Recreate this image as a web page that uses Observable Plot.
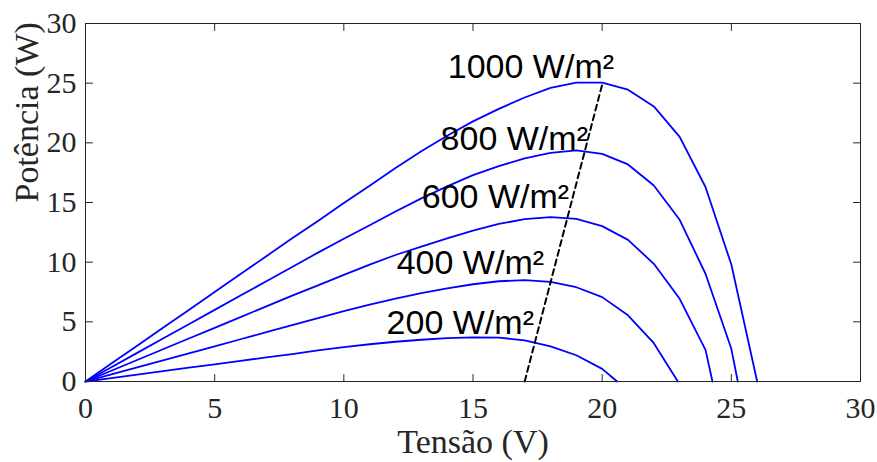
<!DOCTYPE html>
<html><head><meta charset="utf-8">
<script src="https://cdn.jsdelivr.net/npm/d3@7"></script>
<script src="https://cdn.jsdelivr.net/npm/@observablehq/plot@0.6"></script>
<style>body{margin:0;background:#fff}</style>
</head><body><div id="chart"></div>
<script>
// Irradiance curves: voltage (V) and power (W)
const v1000 = [0,1,2,3,4,5,6,7,8,9,10,11,12,13,14,15,16,17,18,19,20,21,22,23,24,25,26];
const p1000 = [0,1.5,3,4.5,6,7.5,9,10.5,12,13.45,14.95,16.4,17.9,19.3,20.6,21.8,22.85,23.8,24.6,25.05,25.05,24.45,23.05,20.5,16.3,9.8,0];
const v800 = [0,1,2,3,4,5,6,7,8,9,10,11,12,13,14,15,16,17,18,19,20,21,22,23,24,25,25.25];
const p800 = [0,1.2,2.4,3.6,4.8,6,7.2,8.4,9.6,10.8,11.96,13.1,14.25,15.35,16.35,17.3,18.05,18.7,19.15,19.36,19.08,18.19,16.43,13.55,9.03,2.74,0];
const v600 = [0,1,2,3,4,5,6,7,8,9,10,11,12,13,14,15,16,17,18,19,20,21,22,23,24,24.27];
const p600 = [0,0.9,1.8,2.7,3.6,4.5,5.4,6.3,7.2,8.05,8.94,9.8,10.6,11.3,12.0,12.65,13.2,13.6,13.77,13.63,13.02,11.87,9.86,6.93,2.65,0];
const v400 = [0,1,2,3,4,5,6,7,8,9,10,11,12,13,14,15,16,17,18,19,20,21,22,22.93];
const p400 = [0,0.59,1.18,1.77,2.36,2.95,3.54,4.13,4.72,5.31,5.9,6.45,6.95,7.4,7.8,8.15,8.4,8.5,8.35,7.9,7.07,5.55,3.21,0];
const v200 = [0,1,2,3,4,5,6,7,8,9,10,11,12,13,14,15,16,17,18,19,20,20.58];
const p200 = [0,0.29,0.58,0.87,1.16,1.44,1.73,2.02,2.3,2.6,2.88,3.12,3.33,3.5,3.63,3.7,3.68,3.45,2.95,2.2,1.06,0];

// Maximum power point locus (dashed)
const mppV = [17, 20.02];
const mppP = [0, 25.05];

// Curve labels
const labelText = ["1000 W/m²", "800 W/m²", "600 W/m²", "400 W/m²", "200 W/m²"];
const labelV = [20.46, 19.45, 18.72, 17.75, 17.36];
const labelP = [25.4, 19.36, 14.5, 8.97, 3.94];

const xTicks = [0, 5, 10, 15, 20, 25, 30];
const yTicks = [0, 5, 10, 15, 20, 25, 30];
const xTitle = "Tensão (V)";
const yTitle = "Potência (W)";

const series = [
  {g: "1000", v: v1000, p: p1000},
  {g: "800", v: v800, p: p800},
  {g: "600", v: v600, p: p600},
  {g: "400", v: v400, p: p400},
  {g: "200", v: v200, p: p200}
];
const rows = series.flatMap(s => s.v.map((v, i) => ({g: s.g, v, p: s.p[i]})));
const mpp = mppV.map((v, i) => ({v, p: mppP[i]}));
const labels = labelText.map((t, i) => ({t, v: labelV[i], p: labelP[i]}));

const tickShape = {draw(ctx, l) { ctx.moveTo(0, 0); ctx.lineTo(0, -l); }};
const axisColor = "#262626";
const tickOpts = {length: 7, anchor: "start", shape: tickShape, stroke: axisColor, strokeWidth: 1};

const chart = Plot.plot({
  width: 877, height: 462,
  marginLeft: 85, marginRight: 17, marginTop: 23, marginBottom: 81,
  x: {domain: [0, 30]},
  y: {domain: [0, 30]},
  style: {fontFamily: "'Liberation Serif', 'Times New Roman', serif", background: "#fff", overflow: "visible"},
  marks: [
    Plot.line(rows, {x: "v", y: "p", z: "g", stroke: "#0000ff", strokeWidth: 1.8}),
    Plot.line(mpp, {x: "v", y: "p", stroke: "black", strokeWidth: 2, strokeDasharray: "6,4"}),
    Plot.text(labels, {x: "v", y: "p", text: "t", textAnchor: "end", lineAnchor: "bottom",
      fontFamily: "'Liberation Sans', Arial, sans-serif", fontSize: 34, fill: "black"}),
    Plot.frame({stroke: axisColor, strokeWidth: 1}),
    Plot.axisX(xTicks, {tickSize: 0, tickPadding: 15, fontSize: 30, color: axisColor, label: null}),
    Plot.axisY(yTicks, {tickSize: 0, tickPadding: 9, fontSize: 30, color: axisColor, label: null}),
    Plot.vector(xTicks, {x: d => d, frameAnchor: "bottom", rotate: 0, ...tickOpts}),
    Plot.vector(xTicks, {x: d => d, frameAnchor: "top", rotate: 180, ...tickOpts}),
    Plot.vector(yTicks, {y: d => d, frameAnchor: "left", rotate: 90, ...tickOpts}),
    Plot.vector(yTicks, {y: d => d, frameAnchor: "right", rotate: -90, ...tickOpts}),
    Plot.text([xTitle], {frameAnchor: "bottom", dy: 71, lineAnchor: "bottom", fontSize: 34, fill: axisColor}),
    Plot.text([yTitle], {frameAnchor: "left", dx: -58, rotate: -90, fontSize: 34, fill: axisColor})
  ]
});
document.getElementById("chart").appendChild(chart);
</script>
</body></html>
